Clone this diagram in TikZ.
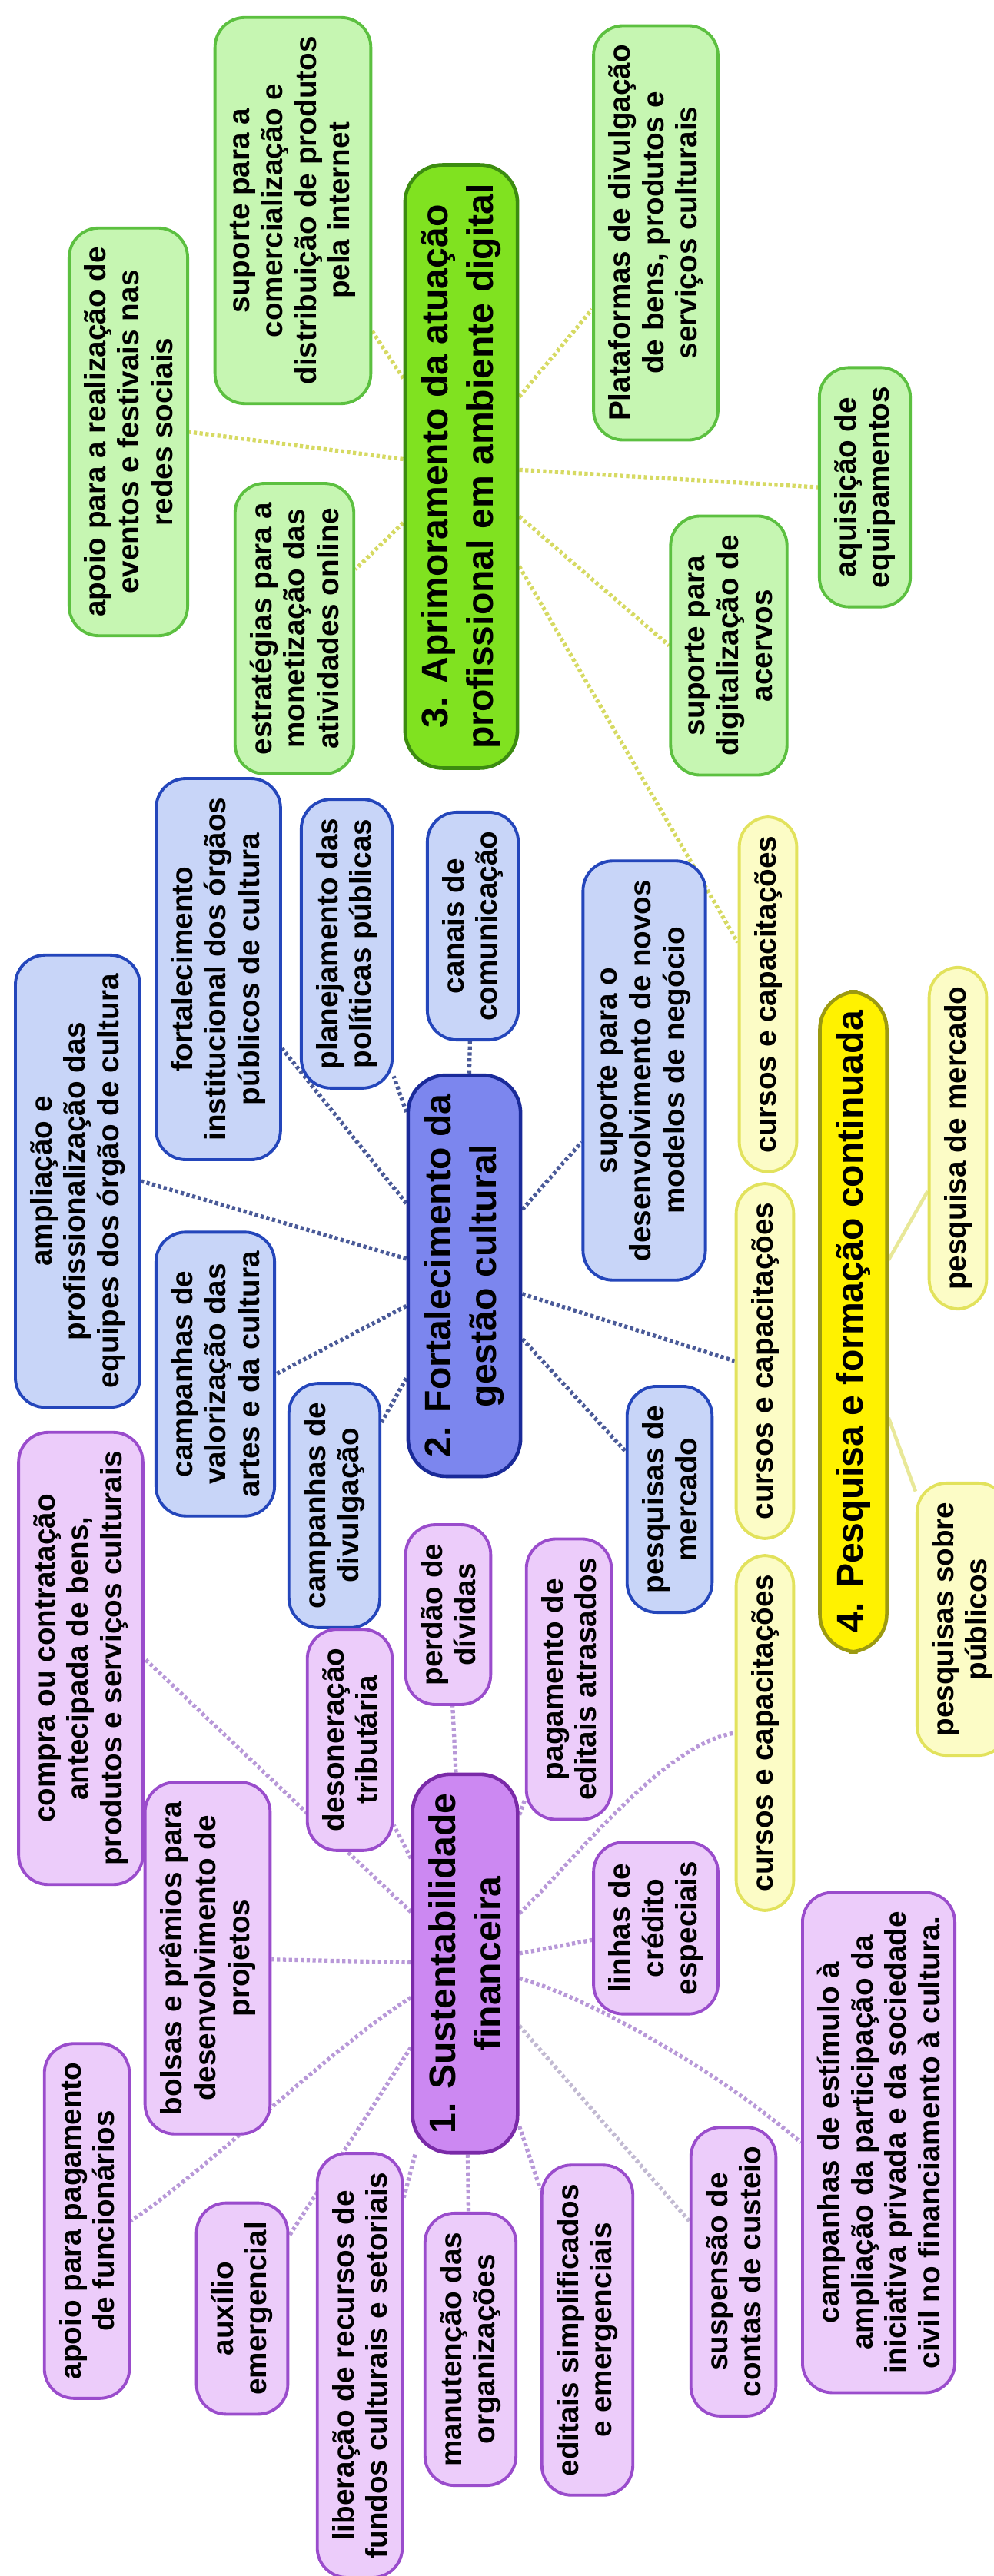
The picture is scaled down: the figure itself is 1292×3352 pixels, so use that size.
\documentclass[tikz,border=0pt]{standalone}
\usepackage{fontspec}
\setmainfont{Liberation Sans}
\usetikzlibrary{backgrounds}
\definecolor{GF}{HTML}{C6F6B2}
\definecolor{GD}{HTML}{5CC040}
\definecolor{GH}{HTML}{80E220}
\definecolor{GK}{HTML}{3C8C10}
\definecolor{BF}{HTML}{C8D5F8}
\definecolor{BD}{HTML}{2446BB}
\definecolor{BH}{HTML}{7C86EE}
\definecolor{BK}{HTML}{1A2A99}
\definecolor{PF}{HTML}{ECCCFA}
\definecolor{PD}{HTML}{9A4CCC}
\definecolor{PH}{HTML}{CC88F2}
\definecolor{PK}{HTML}{7A2AA8}
\definecolor{YF}{HTML}{FCFCC6}
\definecolor{YD}{HTML}{E2E25C}
\definecolor{YH}{HTML}{FFF200}
\definecolor{YK}{HTML}{9C9A10}
\definecolor{LG}{HTML}{D6DA62}
\definecolor{LB}{HTML}{4A5A98}
\definecolor{LP}{HTML}{B898D8}
\definecolor{LS}{HTML}{C2BAD2}
\definecolor{LY}{HTML}{E8E898}
\tikzset{
	bx/.style  = {rotate=90, align=center, rounded corners=11pt, line width=1.1pt,
		inner xsep=7pt, inner ysep=5.5pt, font=\fontsize{11}{12.4}\selectfont\bfseries},
	hub/.style = {bx, rounded corners=14pt, line width=1.3pt, inner ysep=6pt,
		font=\fontsize{13.7}{16.8}\selectfont\bfseries},
	lk/.style  = {line width=1.5pt, dash pattern=on 1.2pt off 1pt, #1},
	lk/.default = black,
}

\begin{document}
\begin{tikzpicture}[x=0.1mm, y=-0.1mm]
	
	\useasboundingbox (0,0) rectangle (1292,3352);
	
	%%═══════════════════════════════════════════════════════════════════
	%% 3. DIGITAL   (top, y = 20 … 1010)
	%%   boxes are turned by 90°: .north = left side, .south = right side
	%%═══════════════════════════════════════════════════════════════════
	\node[hub, draw=GK, fill=GH] (G) at (600,607)
	{3. Aprimoramento da atuação\\profissional em ambiente digital};
	
	\node[bx, draw=GD, fill=GF] (gApoio)  at (167,562)
	{apoio para a realização de\\eventos e festivais nas\\redes sociais};
	\node[bx, draw=GD, fill=GF] (gSup)    at (381,274)
	{suporte para a\\comercialização e\\distribuição de produtos\\pela internet};
	\node[bx, draw=GD, fill=GF] (gEstrat) at (383,818)
	{estratégias para a\\monetização das\\atividades online};
	\node[bx, draw=GD, fill=GF] (gPlat)   at (853,303)
	{Plataformas de divulgação\\de bens, produtos e\\serviços culturais};
	\node[bx, draw=GD, fill=GF] (gAquis)  at (1125,634)
	{aquisição de\\equipamentos};
	\node[bx, draw=GD, fill=GF] (gDigit)  at (948,840)
	{suporte para\\digitalização de\\acervos};
	
	%%═══════════════════════════════════════════════════════════════════
	%% 2. GESTÃO    (middle, y = 1010 … 2120)
	%%═══════════════════════════════════════════════════════════════════
	\node[hub, draw=BK, fill=BH] (B) at (604,1660)
	{2. Fortalecimento da\\gestão cultural};
	
	\node[bx, draw=BD, fill=BF] (bAmpl)   at (101,1537)
	{ampliação e\\profissionalização das\\equipes dos órgão de cultura};
	\node[bx, draw=BD, fill=BF] (bFort)   at (284,1261)
	{fortalecimento\\institucional dos órgãos\\públicos de cultura};
	\node[bx, draw=BD, fill=BF] (bPlan)   at (451,1228)
	{planejamento das\\políticas públicas};
	\node[bx, draw=BD, fill=BF] (bCanais) at (615,1205)
	{canais de\\comunicação};
	\node[bx, draw=BD, fill=BF] (bSup)    at (838,1393)
	{suporte para o\\desenvolvimento de novos\\modelos de negócio};
	\node[bx, draw=BD, fill=BF] (bVal)    at (280,1788)
	{campanhas de\\valorização das\\artes e da cultura};
	\node[bx, draw=BD, fill=BF] (bDiv)    at (435,1959)
	{campanhas de\\divulgação};
	\node[bx, draw=BD, fill=BF] (bPesq)   at (871,1951)
	{pesquisas de\\mercado};
	
	%%═══════════════════════════════════════════════════════════════════
	%% 4. PESQUISA  (right column)
	%%═══════════════════════════════════════════════════════════════════
	\node[hub, draw=YK, fill=YH] (Y) at (1110,1720)
	{4. Pesquisa e formação continuada};
	
	\node[bx, draw=YD, fill=YF] (yCur1) at (999,1294) {cursos e capacitações};
	\node[bx, draw=YD, fill=YF] (yCur2) at (995,1771) {cursos e capacitações};
	\node[bx, draw=YD, fill=YF] (yCur3) at (995,2255) {cursos e capacitações};
	\node[bx, draw=YD, fill=YF] (yMerc) at (1246,1481) {pesquisa de mercado};
	\node[bx, draw=YD, fill=YF] (yPub)  at (1252,2107) {pesquisas sobre\\públicos};
	
	%%═══════════════════════════════════════════════════════════════════
	%% 1. FINANCEIRA (bottom, y = 1860 … 3350)
	%%═══════════════════════════════════════════════════════════════════
	\node[hub, draw=PK, fill=PH] (P) at (605,2555)
	{1. Sustentabilidade\\financeira};
	
	\node[bx, draw=PD, fill=PF] (pCompra) at (105,2158)
	{compra ou contratação\\antecipada de bens,\\produtos e serviços culturais};
	\node[bx, draw=PD, fill=PF] (pDeson)  at (455,2264)
	{desoneração\\tributária};
	\node[bx, draw=PD, fill=PF] (pPerdao) at (583,2101)
	{perdão de\\dívidas};
	\node[bx, draw=PD, fill=PF] (pPagam)  at (740,2185)
	{pagamento de\\editais atrasados};
	\node[bx, draw=PD, fill=PF] (pBolsas) at (270,2548)
	{bolsas e prêmios para\\desenvolvimento de\\projetos};
	\node[bx, draw=PD, fill=PF] (pLinhas) at (853,2509)
	{linhas de\\crédito\\especiais};
	\node[bx, draw=PD, fill=PF] (pCamp)   at (1143,2788)
	{campanhas de estímulo à\\ampliação da participação da\\iniciativa privada e da sociedade\\civil no financiamento à cultura.};
	\node[bx, draw=PD, fill=PF] (pApoio)  at (113,2890)
	{apoio para pagamento\\de funcionários};
	\node[bx, draw=PD, fill=PF] (pAux)    at (315,3004)
	{auxílio\\emergencial};
	\node[bx, draw=PD, fill=PF] (pLiber)  at (468,3078)
	{liberação de recursos de\\fundos culturais e setoriais};
	\node[bx, draw=PD, fill=PF] (pManut)  at (612,3057)
	{manutenção das\\organizações};
	\node[bx, draw=PD, fill=PF] (pEdit)   at (764,3032)
	{editais simplificados\\e emergenciais};
	\node[bx, draw=PD, fill=PF] (pSusp)   at (954,2956)
	{suspensão de\\contas de custeio};
	
	%%═══════════════════════════════════════════════════════════════════
	%% CONNECTORS  (behind the boxes)
	%%═══════════════════════════════════════════════════════════════════
	\begin{scope}[on background layer]
		\fill[white] (0,0) rectangle (1292,3352);
		
		%% G ─ leaves
		\draw[lk=LG] (G) -- (gApoio.south);
		\draw[lk=LG] (G) -- (gSup);
		\draw[lk=LG] (G) -- (gEstrat);
		\draw[lk=LG] (G) -- (gPlat);
		\draw[lk=LG] (G) -- (gAquis.north);
		\draw[lk=LG] (G) -- (gDigit.north);
		\draw[lk=LG] (G) -- (yCur1);
		
		%% B ─ leaves
		\draw[lk=LB] (B) -- (bAmpl.south);
		\draw[lk=LB] (B) -- (bFort);
		\draw[lk=LB] (B) -- (bPlan);
		\draw[lk=LB] (B) -- (bCanais);
		\draw[lk=LB] (B) -- (bSup);
		\draw[lk=LB] (B) -- (bVal.south);
		\draw[lk=LB] (B) -- (bDiv);
		\draw[lk=LB] (B) -- (bPesq);
		\draw[lk=LB] (B) -- (yCur2.north);
		
		%% Y ─ leaves
		\draw[LY, line width=1.3pt] (Y) -- (yMerc);
		\draw[LY, line width=1.3pt] (Y) -- (yPub);
		
		%% P ─ leaves
		\draw[lk=LP] (P) -- (pCompra.south);
		\draw[lk=LP] (P) -- (pDeson);
		\draw[lk=LP] (P) -- (pPerdao);
		\draw[lk=LP] (P) -- (pPagam);
		\draw[lk=LP] (P) -- (pBolsas);
		\draw[lk=LP] (P) -- (pLinhas);
		\draw[lk=LP] (P) .. controls (740,2430) and (860,2270) .. (yCur3.north);
		\draw[lk=LP] (P) .. controls (770,2600) and (940,2700) .. (pCamp.north);
		\draw[lk=LS] (P) -- (pSusp);
		\draw[lk=LP] (P) -- (pEdit);
		\draw[lk=LP] (P) -- (pManut);
		\draw[lk=LP] (P) -- (pLiber);
		\draw[lk=LP] (P) -- (pAux);
		\draw[lk=LP] (P) .. controls (430,2665) and (280,2815) .. (pApoio.south);
	\end{scope}
	
\end{tikzpicture}
\end{document}
